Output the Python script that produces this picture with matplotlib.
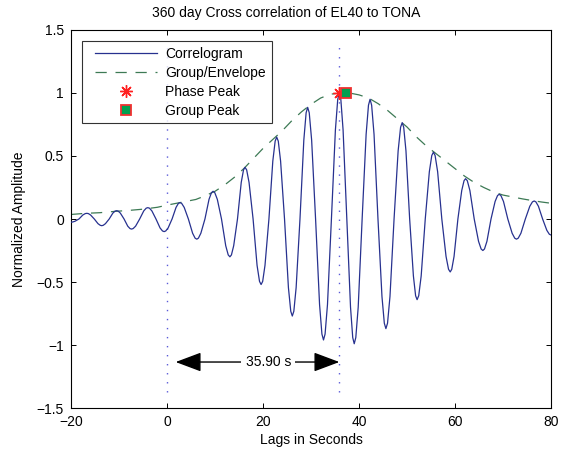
import numpy as np
import matplotlib
matplotlib.use("Agg")
import matplotlib.pyplot as plt
from matplotlib.lines import Line2D
from matplotlib.legend_handler import HandlerLine2D

plt.rcParams['font.family'] = ['Liberation Sans', 'DejaVu Sans']

# ---------------------------------------------------------------
# Correlogram (lag in s, normalized amplitude)
# ---------------------------------------------------------------
lags = [
    -20.00, -19.67, -19.18, -18.35, -17.53, -17.03,
    -16.70, -16.39, -15.93, -15.15, -14.38, -13.91,
    -13.60, -13.29, -12.83, -12.05, -11.28, -10.81,
    -10.50, -10.19, -9.73, -8.95, -8.18, -7.71,
    -7.40, -7.06, -6.55, -5.70, -4.85, -4.34,
    -4.00, -3.66, -3.15, -2.30, -1.45, -0.94,
    -0.60, -0.27, 0.23, 1.05, 1.88, 2.37,
    2.70, 3.05, 3.58, 4.45, 5.33, 5.85,
    6.20, 6.54, 7.05, 7.90, 8.75, 9.26,
    9.60, 9.95, 10.48, 11.35, 12.23, 12.75,
    13.10, 13.42, 13.89, 14.68, 15.46, 15.94,
    16.25, 16.59, 17.09, 17.93, 18.76, 19.27,
    19.60, 19.93, 20.41, 21.23, 22.04, 22.53,
    22.85, 23.18, 23.66, 24.48, 25.29, 25.78,
    26.10, 26.42, 26.90, 27.70, 28.50, 28.98,
    29.30, 29.63, 30.13, 30.95, 31.78, 32.27,
    32.60, 32.93, 33.43, 34.25, 35.08, 35.57,
    35.90, 36.21, 36.68, 37.45, 38.23, 38.69,
    39.00, 39.33, 39.83, 40.65, 41.48, 41.97,
    42.30, 42.63, 43.13, 43.95, 44.78, 45.27,
    45.60, 45.94, 46.45, 47.30, 48.15, 48.66,
    49.00, 49.31, 49.78, 50.55, 51.33, 51.79,
    52.10, 52.44, 52.95, 53.80, 54.65, 55.16,
    55.50, 55.85, 56.38, 57.25, 58.13, 58.65,
    59.00, 59.32, 59.80, 60.60, 61.40, 61.88,
    62.20, 62.56, 63.10, 64.00, 64.90, 65.44,
    65.80, 66.14, 66.65, 67.50, 68.35, 68.86,
    69.20, 69.56, 70.10, 71.00, 71.90, 72.44,
    72.80, 73.17, 73.73, 74.65, 75.58, 76.13,
    76.50, 76.85, 77.38, 78.25, 79.13, 79.65,
    80.00,
]
amps = [
    -0.025, -0.024, -0.018, 0.000, 0.032, 0.043,
    0.045, 0.043, 0.032, 0.000, -0.037, -0.050,
    -0.053, -0.050, -0.037, 0.000, 0.047, 0.063,
    0.066, 0.063, 0.047, 0.000, -0.057, -0.076,
    -0.080, -0.076, -0.057, 0.000, 0.064, 0.086,
    0.090, 0.086, 0.064, 0.000, -0.071, -0.095,
    -0.100, -0.095, -0.071, 0.000, 0.092, 0.124,
    0.130, 0.124, 0.092, 0.000, -0.113, -0.152,
    -0.160, -0.152, -0.113, 0.000, 0.156, 0.209,
    0.220, 0.209, 0.156, 0.000, -0.212, -0.285,
    -0.300, -0.285, -0.212, 0.000, 0.290, 0.390,
    0.410, 0.390, 0.290, 0.000, -0.368, -0.495,
    -0.520, -0.495, -0.368, 0.000, 0.460, 0.618,
    0.650, 0.618, 0.460, 0.000, -0.544, -0.732,
    -0.770, -0.732, -0.544, 0.000, 0.626, 0.843,
    0.886, 0.843, 0.626, 0.000, -0.679, -0.913,
    -0.960, -0.913, -0.679, 0.000, 0.707, 0.951,
    1.000, 0.951, 0.707, 0.000, -0.700, -0.941,
    -0.990, -0.941, -0.700, 0.000, 0.672, 0.903,
    0.950, 0.903, 0.672, 0.000, -0.615, -0.827,
    -0.870, -0.827, -0.615, 0.000, 0.541, 0.728,
    0.765, 0.728, 0.541, 0.000, -0.452, -0.609,
    -0.640, -0.609, -0.452, 0.000, 0.375, 0.504,
    0.530, 0.504, 0.375, 0.000, -0.297, -0.399,
    -0.420, -0.399, -0.297, 0.000, 0.226, 0.304,
    0.320, 0.304, 0.226, 0.000, -0.177, -0.238,
    -0.250, -0.238, -0.177, 0.000, 0.139, 0.186,
    0.196, 0.186, 0.139, 0.000, -0.113, -0.152,
    -0.160, -0.152, -0.113, 0.000, 0.101, 0.136,
    0.143, 0.136, 0.101, 0.000, -0.090, -0.121,
    -0.127,
]

# group envelope
env_lags = [-20, -17, -14, -11, -8, -5, -2, 0, 2, 4, 6, 8, 10, 12, 14, 16,
            18, 20, 22, 24, 26, 28, 30, 32, 34, 36, 38, 40, 42, 44, 46, 48,
            50, 52, 54, 56, 58, 60, 62, 64, 66, 68, 70, 72, 74, 76, 78, 80]
env_amps = [0.036, 0.045, 0.050, 0.060, 0.068, 0.078, 0.093, 0.110, 0.125,
            0.140, 0.155, 0.185, 0.220, 0.270, 0.330, 0.400, 0.480, 0.560,
            0.630, 0.700, 0.780, 0.850, 0.910, 0.960, 0.990, 1.000, 1.000,
            0.985, 0.960, 0.915, 0.860, 0.795, 0.730, 0.650, 0.580, 0.520,
            0.460, 0.400, 0.340, 0.290, 0.250, 0.215, 0.190, 0.175, 0.160,
            0.147, 0.135, 0.125]

phase_peak = (35.9, 1.0)
group_peak = (37.3, 1.0)
delay = 35.90
marker_lags = [0.0, 35.9]

xticks = [-20, 0, 20, 40, 60, 80]
yticks = [-1.5, -1.0, -0.5, 0.0, 0.5, 1.0, 1.5]
ytick_labels = ['\u22121.5', '\u22121', '\u22120.5', '0', '0.5', '1', '1.5']

# ---------------------------------------------------------------
fig = plt.figure(figsize=(5.61, 4.53), dpi=100)
ax = fig.add_axes([0.1266, 0.0993, 0.8556, 0.8345])

ax.plot(lags, amps, color='#27318f', lw=0.9, label='Correlogram', zorder=3)
ax.plot(env_lags, env_amps, color='#3d7a55', lw=0.9, dashes=(9, 7),
        label='Group/Envelope', zorder=2)

for xm in marker_lags:
    ax.plot([xm, xm], [-1.37, 1.37], color='#5a5ad8', lw=1.0,
            linestyle=(0, (1, 5.5)), zorder=2)

ax.plot(*phase_peak, linestyle='none', marker=(8, 2, 0), ms=9, mew=1.0,
        color='#ff2020', label='Phase Peak', zorder=5)
ax.plot(*group_peak, linestyle='none', marker='s', ms=7.5, mew=1.3,
        markerfacecolor='#00a050', markeredgecolor='#f03030',
        label='Group Peak', zorder=6)

# delay arrow
y_arr = -1.135
x_txt = 21.1
arrow_kw = dict(arrowstyle='-|>,head_length=1.6,head_width=0.6',
                color='black', lw=1.0, shrinkA=0, shrinkB=0)
ax.annotate('', xy=(1.8, y_arr), xytext=(x_txt, y_arr), arrowprops=arrow_kw)
ax.annotate('', xy=(35.9, y_arr), xytext=(x_txt, y_arr), arrowprops=arrow_kw)
ax.text(x_txt, y_arr, '%.2f s' % delay, ha='center', va='center', fontsize=10,
        bbox=dict(facecolor='white', edgecolor='none', pad=3), zorder=7)

ax.set_xlim(-20, 80)
ax.set_ylim(-1.5, 1.5)
ax.set_xticks(xticks)
ax.set_yticks(yticks)
ax.set_yticklabels(ytick_labels)
ax.tick_params(direction='in', length=3.6, width=0.7, top=True, right=True,
               labelsize=10, pad=5)
for sp in ax.spines.values():
    sp.set_linewidth(0.8)

ax.set_xlabel('Lags in Seconds', fontsize=10, labelpad=3)
ax.set_ylabel('Normalized Amplitude', fontsize=10, labelpad=8)
fig.text(286 / 561, 1 - 12.5 / 453, '360 day Cross correlation of EL40 to TONA',
         ha='center', va='center', fontsize=10)

leg = ax.legend(loc='upper left', fontsize=10, frameon=True, fancybox=False,
                edgecolor='black', borderaxespad=0.8, handlelength=5.0,
                handletextpad=0.6, labelspacing=0.36, borderpad=0.4,
                handler_map={Line2D: HandlerLine2D(xpad=0.5)})
leg.get_frame().set_linewidth(0.8)

fig.savefig('out.png', dpi=100)
